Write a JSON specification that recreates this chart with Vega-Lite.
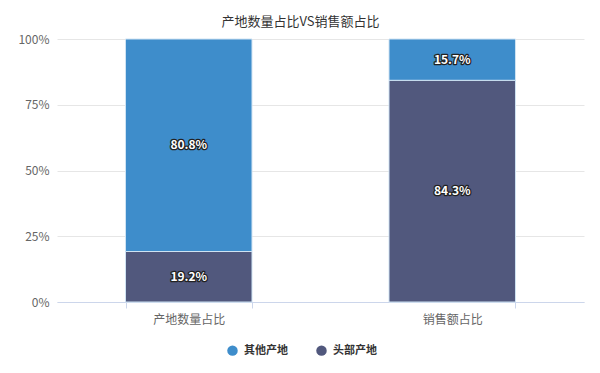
{
  "$schema": "https://vega.github.io/schema/vega-lite/v6.json",
  "autosize": "none",
  "width": 527,
  "height": 263,
  "padding": {"left": 57, "top": 39, "right": 16, "bottom": 71},
  "background": "white",
  "config": {
    "font": "Noto Sans CJK SC",
    "view": {"stroke": null}
  },
  "title": {
    "text": "产地数量占比VS销售额占比",
    "fontSize": 13,
    "fontWeight": "normal",
    "color": "#333333",
    "dx": -20,
    "offset": 4
  },
  "data": {
    "values": [
      {"category": "产地数量占比", "segment": "头部产地", "share": 0.192},
      {"category": "产地数量占比", "segment": "其他产地", "share": 0.808},
      {"category": "销售额占比", "segment": "头部产地", "share": 0.843},
      {"category": "销售额占比", "segment": "其他产地", "share": 0.157}
    ]
  },
  "transform": [
    {"stack": "share", "groupby": ["category"], "sort": [{"field": "segment", "order": "descending"}], "as": ["y0", "y1"]},
    {"calculate": "(datum.y0 + datum.y1) / 2", "as": "mid"}
  ],
  "encoding": {
    "x": {
      "field": "category",
      "type": "nominal",
      "sort": ["产地数量占比", "销售额占比"],
      "scale": {"paddingInner": 0.52, "paddingOuter": 0.26},
      "axis": {
        "title": null,
        "labelAngle": 0,
        "labelColor": "#666666",
        "labelFontSize": 12,
        "labelPadding": 6,
        "domainColor": "#ccd6eb",
        "tickColor": "#ccd6eb",
        "tickBand": "extent",
        "tickSize": 6
      }
    }
  },
  "layer": [
    {
      "mark": {"type": "bar", "stroke": "#cfe3f3", "strokeWidth": 1},
      "encoding": {
        "y": {
          "field": "y0",
          "type": "quantitative",
          "scale": {"domain": [0, 1]},
          "axis": {
            "title": null,
            "format": "%",
            "values": [0, 0.25, 0.5, 0.75, 1],
            "labelColor": "#666666",
            "labelFontSize": 12,
            "labelPadding": 8,
            "domain": false,
            "ticks": false,
            "gridColor": "#e6e6e6"
          }
        },
        "y2": {"field": "y1"},
        "color": {
          "field": "segment",
          "type": "nominal",
          "scale": {"domain": ["其他产地", "头部产地"], "range": ["#3e8dcb", "#51587d"]},
          "legend": {
            "title": null,
            "orient": "none",
            "direction": "horizontal",
            "legendX": 170,
            "legendY": 306,
            "symbolType": "circle",
            "symbolSize": 110,
            "symbolStrokeWidth": 0,
            "labelFontSize": 11,
            "labelFontWeight": "bold",
            "labelColor": "#333333",
            "columnPadding": 28,
            "labelOffset": 6
          }
        }
      }
    },
    {
      "mark": {"type": "text", "fontSize": 12, "fontWeight": "bold", "stroke": "#222222", "strokeWidth": 2.5, "strokeJoin": "round", "fill": "#222222"},
      "encoding": {
        "y": {"field": "mid", "type": "quantitative"},
        "text": {"field": "share", "type": "quantitative", "format": ".1%"}
      }
    },
    {
      "mark": {"type": "text", "fontSize": 12, "fontWeight": "bold", "fill": "#ffffff"},
      "encoding": {
        "y": {"field": "mid", "type": "quantitative"},
        "text": {"field": "share", "type": "quantitative", "format": ".1%"}
      }
    }
  ]
}
